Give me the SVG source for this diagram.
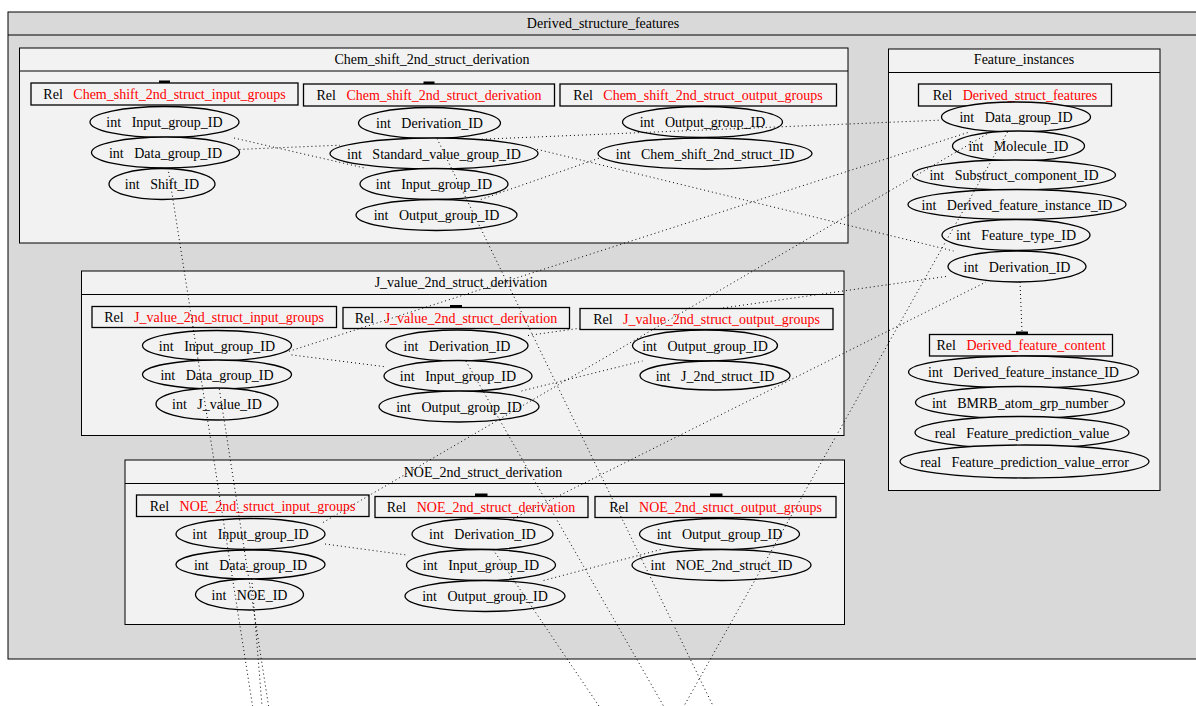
<svg xmlns="http://www.w3.org/2000/svg" width="1196" height="706" viewBox="0 0 1196 706">
  <style>
    text { font-family: "Liberation Serif", "Times New Roman", serif; font-size: 14px; fill: #000; }
    .t { text-anchor: middle; }
    .red { fill: #ff0000; }
    .outer { fill: #d9d9d9; stroke: #000; stroke-width: 1; }
    .clu { fill: #f2f2f2; stroke: #000; stroke-width: 1; }
    .rel { fill: #f2f2f2; stroke: #000; stroke-width: 1.3; }
    .fld { fill: #f2f2f2; stroke: #000; stroke-width: 1.3; }
    .tick { fill: #000; }
    .edges path { fill: none; stroke: #000; stroke-width: 1; stroke-dasharray: 1 3; }
  </style>

  <!-- outer cluster -->
  <g id="Derived_structure_features">
    <rect class="outer" x="8" y="12" width="1200" height="647"/>
    <line x1="8" y1="35" x2="1196" y2="35" stroke="#000"/>
    <text class="t" x="603" y="28">Derived_structure_features</text>
  </g>

  <!-- sub-clusters -->
  <g id="Chem_shift_2nd_struct_derivation_cluster">
    <rect class="clu" x="19.5" y="48" width="828.5" height="195"/>
    <line x1="19.5" y1="71" x2="848" y2="71" stroke="#000"/>
    <text class="t" x="432" y="64">Chem_shift_2nd_struct_derivation</text>
  </g>
  <g id="Feature_instances">
    <rect class="clu" x="888.5" y="49" width="271.5" height="441.5"/>
    <line x1="888.5" y1="72.5" x2="1160" y2="72.5" stroke="#000"/>
    <text class="t" x="1024" y="64">Feature_instances</text>
  </g>
  <g id="J_value_2nd_struct_derivation_cluster">
    <rect class="clu" x="81.5" y="271" width="762.5" height="164.5"/>
    <line x1="81.5" y1="294.5" x2="844" y2="294.5" stroke="#000"/>
    <text class="t" x="461" y="287">J_value_2nd_struct_derivation</text>
  </g>
  <g id="NOE_2nd_struct_derivation_cluster">
    <rect class="clu" x="125" y="460" width="719.5" height="164.5"/>
    <line x1="125" y1="483.5" x2="844.5" y2="483.5" stroke="#000"/>
    <text class="t" x="483" y="477">NOE_2nd_struct_derivation</text>
  </g>

  <!-- Chem_shift_2nd_struct_input_groups -->
  <g id="Chem_shift_2nd_struct_input_groups">
    <rect class="tick" x="159" y="80.5" width="11" height="2.5"/>
    <rect class="rel" x="31" y="83" width="267" height="22"/>
    <text class="t" x="164.5" y="99">Rel&#160;&#160;&#160;<tspan class="red">Chem_shift_2nd_struct_input_groups</tspan></text>
    <ellipse class="fld" cx="164.5" cy="122" rx="74.5" ry="15.5"/>
    <text class="t" x="164.5" y="127">int&#160;&#160;&#160;Input_group_ID</text>
    <ellipse class="fld" cx="165.5" cy="152.5" rx="74" ry="15.5"/>
    <text class="t" x="165.5" y="157.5">int&#160;&#160;&#160;Data_group_ID</text>
    <ellipse class="fld" cx="162" cy="184" rx="53" ry="15.5"/>
    <text class="t" x="162" y="189">int&#160;&#160;&#160;Shift_ID</text>
  </g>

  <!-- Chem_shift_2nd_struct_derivation -->
  <g id="Chem_shift_2nd_struct_derivation">
    <rect class="tick" x="423.5" y="81.5" width="11" height="2.5"/>
    <rect class="rel" x="303.5" y="84" width="251" height="22"/>
    <text class="t" x="429" y="100">Rel&#160;&#160;&#160;<tspan class="red">Chem_shift_2nd_struct_derivation</tspan></text>
    <ellipse class="fld" cx="429.5" cy="123" rx="71" ry="15.5"/>
    <text class="t" x="429.5" y="128">int&#160;&#160;&#160;Derivation_ID</text>
    <ellipse class="fld" cx="434" cy="153.5" rx="104" ry="15.5"/>
    <text class="t" x="434" y="158.5">int&#160;&#160;&#160;Standard_value_group_ID</text>
    <ellipse class="fld" cx="434" cy="184" rx="74" ry="15.5"/>
    <text class="t" x="434" y="189">int&#160;&#160;&#160;Input_group_ID</text>
    <ellipse class="fld" cx="436.5" cy="215" rx="80.5" ry="15.5"/>
    <text class="t" x="436.5" y="220">int&#160;&#160;&#160;Output_group_ID</text>
  </g>

  <!-- Chem_shift_2nd_struct_output_groups -->
  <g id="Chem_shift_2nd_struct_output_groups">
    <rect class="rel" x="560" y="84" width="276.5" height="22"/>
    <text class="t" x="698" y="100">Rel&#160;&#160;&#160;<tspan class="red">Chem_shift_2nd_struct_output_groups</tspan></text>
    <ellipse class="fld" cx="702.5" cy="122" rx="80" ry="15.5"/>
    <text class="t" x="702.5" y="127">int&#160;&#160;&#160;Output_group_ID</text>
    <ellipse class="fld" cx="705" cy="153.5" rx="107" ry="15.5"/>
    <text class="t" x="705" y="158.5">int&#160;&#160;&#160;Chem_shift_2nd_struct_ID</text>
  </g>

  <!-- Derived_struct_features -->
  <g id="Derived_struct_features">
    <rect class="rel" x="918.5" y="84" width="193" height="22"/>
    <text class="t" x="1015" y="100">Rel&#160;&#160;&#160;<tspan class="red">Derived_struct_features</tspan></text>
    <ellipse class="fld" cx="1016" cy="117" rx="74.5" ry="15"/>
    <text class="t" x="1016" y="122">int&#160;&#160;&#160;Data_group_ID</text>
    <ellipse class="fld" cx="1018.5" cy="146" rx="66" ry="15"/>
    <text class="t" x="1018.5" y="151">int&#160;&#160;&#160;Molecule_ID</text>
    <ellipse class="fld" cx="1014" cy="175" rx="101.5" ry="15"/>
    <text class="t" x="1014" y="180">int&#160;&#160;&#160;Substruct_component_ID</text>
    <ellipse class="fld" cx="1017" cy="204.5" rx="109" ry="15"/>
    <text class="t" x="1017" y="209.5">int&#160;&#160;&#160;Derived_feature_instance_ID</text>
    <ellipse class="fld" cx="1016" cy="235" rx="74" ry="15.5"/>
    <text class="t" x="1016" y="240">int&#160;&#160;&#160;Feature_type_ID</text>
    <ellipse class="fld" cx="1017" cy="266.5" rx="69" ry="15.5"/>
    <text class="t" x="1017" y="271.5">int&#160;&#160;&#160;Derivation_ID</text>
  </g>

  <!-- Derived_feature_content -->
  <g id="Derived_feature_content">
    <rect class="tick" x="1016" y="331.5" width="12" height="2.5"/>
    <rect class="rel" x="929.5" y="334.5" width="183" height="21.5"/>
    <text class="t" x="1021" y="350">Rel&#160;&#160;&#160;<tspan class="red">Derived_feature_content</tspan></text>
    <ellipse class="fld" cx="1023.5" cy="372" rx="115" ry="16"/>
    <text class="t" x="1023.5" y="377">int&#160;&#160;&#160;Derived_feature_instance_ID</text>
    <ellipse class="fld" cx="1020" cy="402.5" rx="104.5" ry="16"/>
    <text class="t" x="1020" y="407.5">int&#160;&#160;&#160;BMRB_atom_grp_number</text>
    <ellipse class="fld" cx="1022" cy="432.5" rx="107" ry="16"/>
    <text class="t" x="1022" y="437.5">real&#160;&#160;&#160;Feature_prediction_value</text>
    <ellipse class="fld" cx="1024.5" cy="461.5" rx="124.5" ry="16.5"/>
    <text class="t" x="1024.5" y="466.5">real&#160;&#160;&#160;Feature_prediction_value_error</text>
  </g>

  <!-- J_value_2nd_struct_input_groups -->
  <g id="J_value_2nd_struct_input_groups">
    <rect class="rel" x="92" y="306.5" width="244.5" height="21"/>
    <text class="t" x="214" y="322">Rel&#160;&#160;&#160;<tspan class="red">J_value_2nd_struct_input_groups</tspan></text>
    <ellipse class="fld" cx="217" cy="345.5" rx="74.5" ry="15"/>
    <text class="t" x="217" y="350.5">int&#160;&#160;&#160;Input_group_ID</text>
    <ellipse class="fld" cx="217" cy="374.5" rx="74.5" ry="14.5"/>
    <text class="t" x="217" y="379.5">int&#160;&#160;&#160;Data_group_ID</text>
    <ellipse class="fld" cx="217" cy="404" rx="61" ry="16"/>
    <text class="t" x="217" y="409">int&#160;&#160;&#160;J_value_ID</text>
  </g>

  <!-- J_value_2nd_struct_derivation -->
  <g id="J_value_2nd_struct_derivation">
    <rect class="tick" x="450" y="305" width="12" height="2.5"/>
    <rect class="rel" x="343" y="307.5" width="226.5" height="21"/>
    <text class="t" x="456" y="323">Rel&#160;&#160;&#160;<tspan class="red">J_value_2nd_struct_derivation</tspan></text>
    <ellipse class="fld" cx="457" cy="345.5" rx="71" ry="15.5"/>
    <text class="t" x="457" y="350.5">int&#160;&#160;&#160;Derivation_ID</text>
    <ellipse class="fld" cx="458" cy="376" rx="74" ry="15.5"/>
    <text class="t" x="458" y="381">int&#160;&#160;&#160;Input_group_ID</text>
    <ellipse class="fld" cx="459" cy="406.5" rx="80" ry="15.5"/>
    <text class="t" x="459" y="411.5">int&#160;&#160;&#160;Output_group_ID</text>
  </g>

  <!-- J_value_2nd_struct_output_groups -->
  <g id="J_value_2nd_struct_output_groups">
    <rect class="rel" x="580" y="308.5" width="253" height="21"/>
    <text class="t" x="706.5" y="324">Rel&#160;&#160;&#160;<tspan class="red">J_value_2nd_struct_output_groups</tspan></text>
    <ellipse class="fld" cx="705" cy="345.5" rx="72.5" ry="15.5"/>
    <text class="t" x="705" y="350.5">int&#160;&#160;&#160;Output_group_ID</text>
    <ellipse class="fld" cx="715" cy="375.5" rx="75" ry="14.5"/>
    <text class="t" x="715" y="380.5">int&#160;&#160;&#160;J_2nd_struct_ID</text>
  </g>

  <!-- NOE_2nd_struct_input_groups -->
  <g id="NOE_2nd_struct_input_groups">
    <rect class="rel" x="136.5" y="495" width="232.5" height="21.5"/>
    <text class="t" x="252.5" y="511">Rel&#160;&#160;&#160;<tspan class="red">NOE_2nd_struct_input_groups</tspan></text>
    <ellipse class="fld" cx="250.5" cy="534" rx="74.5" ry="15.5"/>
    <text class="t" x="250.5" y="539">int&#160;&#160;&#160;Input_group_ID</text>
    <ellipse class="fld" cx="250.5" cy="564.5" rx="74.5" ry="14.5"/>
    <text class="t" x="250.5" y="569.5">int&#160;&#160;&#160;Data_group_ID</text>
    <ellipse class="fld" cx="249.5" cy="594.5" rx="54" ry="15.5"/>
    <text class="t" x="249.5" y="599.5">int&#160;&#160;&#160;NOE_ID</text>
  </g>

  <!-- NOE_2nd_struct_derivation -->
  <g id="NOE_2nd_struct_derivation">
    <rect class="tick" x="475" y="493.5" width="12.5" height="2.5"/>
    <rect class="rel" x="375" y="496.5" width="213" height="21"/>
    <text class="t" x="481" y="512">Rel&#160;&#160;&#160;<tspan class="red">NOE_2nd_struct_derivation</tspan></text>
    <ellipse class="fld" cx="482.5" cy="534" rx="70.5" ry="15.5"/>
    <text class="t" x="482.5" y="539">int&#160;&#160;&#160;Derivation_ID</text>
    <ellipse class="fld" cx="481" cy="565" rx="74.5" ry="15.5"/>
    <text class="t" x="481" y="570">int&#160;&#160;&#160;Input_group_ID</text>
    <ellipse class="fld" cx="485" cy="596" rx="80" ry="15.5"/>
    <text class="t" x="485" y="601">int&#160;&#160;&#160;Output_group_ID</text>
  </g>

  <!-- NOE_2nd_struct_output_groups -->
  <g id="NOE_2nd_struct_output_groups">
    <rect class="tick" x="710" y="493.5" width="12.5" height="2.5"/>
    <rect class="rel" x="595" y="496.5" width="241" height="21"/>
    <text class="t" x="715.5" y="512">Rel&#160;&#160;&#160;<tspan class="red">NOE_2nd_struct_output_groups</tspan></text>
    <ellipse class="fld" cx="719.5" cy="534" rx="80" ry="15.5"/>
    <text class="t" x="719.5" y="539">int&#160;&#160;&#160;Output_group_ID</text>
    <ellipse class="fld" cx="721.5" cy="565" rx="89.5" ry="15.5"/>
    <text class="t" x="721.5" y="570">int&#160;&#160;&#160;NOE_2nd_struct_ID</text>
  </g>

  <!-- foreign-key connectors (dotted), trimmed where they meet field nodes -->
  <g id="connectors" class="edges">
    <!-- input group -> derivation input group -->
    <path d="M234,138 L366.6,168.5"/>
    <path d="M291.5,354.9 L384,366.6"/>
    <path d="M325,544 L406.5,555"/>
    <!-- derivation output group -> output groups -->
    <path d="M480.8,199.5 L601,157.5"/>
    <path d="M521.5,391 L642.5,361"/>
    <path d="M543.6,580.5 L660.9,549.5"/>
    <!-- data groups -> Derived_struct_features.Data_group_ID -->
    <path d="M239.5,149.4 L340,145.2 M478,139.4 L941.5,120.1"/>
    <path d="M289,351.3 L969.4,132"/>
    <path d="M323,522.5 L990.4,132"/>
    <!-- derivation ids -> Derived_struct_features.Derivation_ID -->
    <path d="M537,149.3 L953.5,251"/>
    <path d="M528,335.5 L580,328.2 M719.2,308.5 L948,276.2"/>
    <path d="M513.5,518.5 L986,282"/>
    <!-- Derived_struct_features -> Derived_feature_content -->
    <path d="M1020,282 L1022,331.5"/>
    <!-- links leaving the frame downwards -->
    <path d="M168,168 L253.5,712"/>
    <path d="M219.3,389 L269.5,712"/>
    <path d="M251.7,579 L262.5,712"/>
    <path d="M437,138.5 L716,712"/>
    <path d="M465.9,361 L667,712"/>
    <path d="M493,549.5 L603,712"/>
    <path d="M1007.5,132 L680.6,712"/>
  </g>
</svg>
